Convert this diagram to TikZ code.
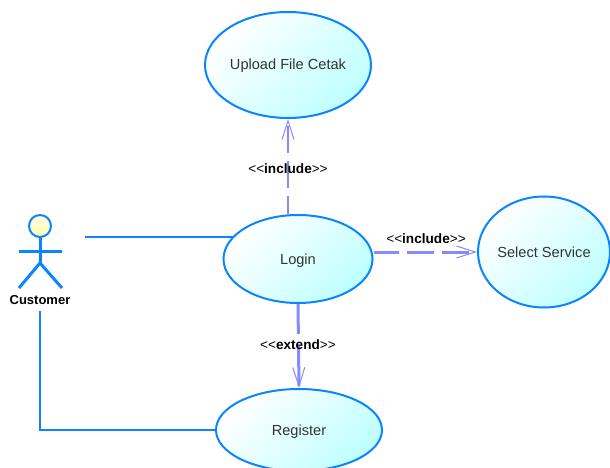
\documentclass[tikz,border=0pt]{standalone}
\usepackage{fontspec}
\setmainfont{Liberation Sans}
\usetikzlibrary{arrows.meta}
\usetikzlibrary{shapes.geometric}

\definecolor{umlblue}{HTML}{0A84FF}
\definecolor{umlarrow}{HTML}{8888FF}

\begin{document}
\begin{tikzpicture}[
        x=1pt, y=-1pt,
        usecase/.style={ellipse, draw=umlblue, line width=2pt, inner sep=0pt,
            top color=white, bottom color=cyan!25, shading angle=45,
            font=\fontsize{14.6}{16}\selectfont, text=black!80, text height=10pt, text depth=0pt},
        assoc/.style={umlblue, line width=1.4pt},
        limb/.style={umlblue, line width=3pt},
        depend/.style={umlarrow, line width=3pt, dash pattern=on 27pt off 8pt,
            -{Straight Barb[length=19pt, width=12pt, line width=1pt]}},
        stereo/.style={font=\fontsize{13.6}{15}\selectfont, text=black, inner sep=0pt}
    ]
        \path[use as bounding box, clip] (0,0) rectangle (610,468);

        % Casos de uso
        \node[usecase, minimum width=166pt, minimum height=106pt] (upload) at (288,65) {Upload File Cetak};
        \node[usecase, minimum width=149pt, minimum height=88pt] (login) at (298,259) {Login};
        \node[usecase, minimum width=132pt, minimum height=111pt] (select) at (544,252) {Select Service};
        \node[usecase, minimum width=166pt, minimum height=82pt] (register) at (299,430) {Register};

        % Actor
        \node[circle, draw=umlblue, line width=2pt, top color=yellow!12, bottom color=yellow!30,
            minimum size=22pt, inner sep=0pt] (head) at (40,226) {};
        \coordinate (hip) at (40,263);
        \coordinate (armleft) at (19,251);
        \coordinate (armright) at (62,251);
        \coordinate (footleft) at (19,288);
        \coordinate (footright) at (62,288);
        \draw[limb] (head.south) -- (hip);
        \draw[limb] (armleft) -- (armright);
        \draw[limb] (footleft) -- (hip) -- (footright);
        \node[font=\fontsize{13}{15}\selectfont\bfseries, inner sep=0pt] (customer) at (40,300) {Customer};

        % Asociaciones
        \coordinate (loginstart) at (85,237);
        \coordinate (registerstart) at (40,311);
        \draw[assoc] (loginstart) -- (loginstart -| login.161);
        \draw[assoc] (registerstart) |- (register.west);

        % Dependencias
        \draw[depend, line width=2.6pt, dash phase=9pt] (upload.south |- login.north) -- (upload.south);
        \draw[depend, dash phase=2pt] (login.east |- select.west) -- (select.west);
        \draw[depend, dash pattern=on 30pt off 12pt on 60pt off 1pt] (login.south) -- (register.north);

        \node[stereo] (inclupload) at (288,169) {{<}{<}\textbf{include}{>}{>}};
        \node[stereo] (inclselect) at (426,239) {{<}{<}\textbf{include}{>}{>}};
        \node[stereo] (extregister) at (298,345) {{<}{<}\textbf{extend}{>}{>}};
    \end{tikzpicture}
\end{document}
